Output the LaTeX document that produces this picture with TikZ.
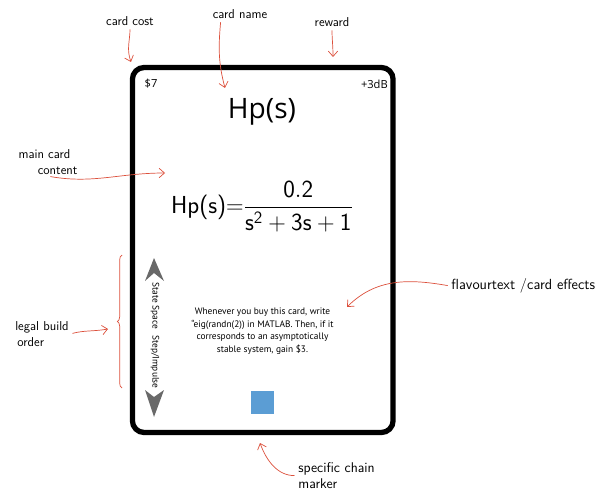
\documentclass[tikz,border=0pt]{standalone}
\usepackage{fontspec}
\usepackage{amsmath}
\usetikzlibrary{arrows.meta}
\usetikzlibrary{decorations.pathreplacing}
\newfontfamily\cardfont{Open Sans}
\newfontfamily\flavourfont{PT Sans}
\definecolor{notered}{RGB}{220,80,60}
\definecolor{markerblue}{RGB}{91,157,212}
\definecolor{ordergrey}{RGB}{105,105,105}
\tikzstyle{note}=[font=\sffamily\fontsize{11}{14}\selectfont, inner sep=1pt, align=left]
\tikzstyle{arrow}=[draw=notered, line width=0.6pt, -{Straight Barb[length=1.6mm,width=2.8mm]}, shorten <=2pt]
\tikzstyle{card}=[draw=black, line width=4.5pt, rounded corners=10pt, minimum width=7.82cm, minimum height=10.95cm]
\tikzstyle{corner}=[font=\cardfont\fontsize{9.5}{11}\selectfont, inner sep=0pt]
\tikzstyle{order}=[font=\flavourfont\fontsize{8}{9}\selectfont, rotate=-90, inner sep=0pt]

\begin{document}
\begin{tikzpicture}[x=0.03cm, y=0.03cm]
		   \useasboundingbox (0,0) rectangle (599,499);
		   \begin{scope}
			   \node (card) at (262.75,249)[card] {};
			   \node (cost) at (151,415)[corner] {\$7};
			   \node (reward) at (388,415)[corner, anchor=east] {+3dB};
			   \node (title) at (262,387)[font=\cardfont\fontsize{24}{28}\selectfont] {Hp(s)};
			   \node (formula) at (262,292.5)[font=\fontsize{21}{24}\selectfont] {$\text{\sffamily Hp(s)}{=}\dfrac{\mathsf{0.2}}{\mathsf{s}^{\mathsf{2}}+\mathsf{3s}+\mathsf{1}}$};
			   \node (flavour) at (262.5,168)[font=\flavourfont\fontsize{8}{10.8}\selectfont, align=center] {Whenever you buy this card, write\\“eig(randn(2)) in MATLAB. Then, if it\\corresponds to an asymptotically\\stable system, gain \$3.};
			   \node (statespace) at (155,193)[order] {State Space};
			   \node (stepimpulse) at (155,137)[order] {Step/Impulse};
			   \node (marker) at (262.5,96.5)[fill=markerblue, minimum size=0.69cm, inner sep=0pt] {};
		   \end{scope}
		   \begin{scope}
			   \fill [ordergrey] (154,241) -- (145,218) -- (154,226) -- (164,218) -- cycle;
			   \fill [ordergrey] (154,82) -- (145,109) -- (154,102) -- (164,109) -- cycle;
		   \end{scope}
		   \begin{scope}
			   \node (costnote) at (130,478)[note] {card cost};
			   \node (namenote) at (240,485)[note] {card name};
			   \node (rewardnote) at (332,477)[note] {reward};
			   \node (contentnote) at (48,337)[note] {main card\\\quad\, content};
			   \node (ordernote) at (42,165)[note] {legal build\\\,order};
			   \node (flavournote) at (450,213)[note, anchor=west, font=\sffamily\fontsize{12.5}{14}\selectfont] {flavourtext /card effects};
			   \node (chainnote) at (297,38)[note, anchor=north west, font=\sffamily\fontsize{12}{14}\selectfont] {specific chain\\marker};
			   \coordinate (costtip) at (131,437);
			   \coordinate (nametip) at (225,411);
			   \coordinate (rewardtip) at (333,442);
			   \coordinate (contenttip) at (165,326);
			   \coordinate (ordertip) at (108,170);
			   \coordinate (flavourtip) at (347,192);
			   \coordinate (chaintip) at (260,56);
		   \end{scope}
		   \begin{scope}
			   \draw [arrow] (costnote.south) to[out=-90, in=110] (costtip);
			   \draw [arrow] ([xshift=8pt]namenote.south west) to[out=-95, in=105] (nametip);
			   \draw [arrow] (rewardnote.south) to[out=-90, in=90] (rewardtip);
			   \draw [arrow] (contentnote.south) to[out=-10, in=180] (contenttip);
			   \draw [arrow] (ordernote.east) to[out=15, in=190] (ordertip);
			   \draw [arrow] (flavournote.west) to[out=170, in=45] (flavourtip);
			   \draw [arrow] (chainnote.west) to[out=180, in=-70] (chaintip);
			   \draw [notered, line width=0.6pt, decorate, decoration={brace, amplitude=4pt}] (122,111) -- (122,244);
		   \end{scope}
	   \end{tikzpicture}
\end{document}
